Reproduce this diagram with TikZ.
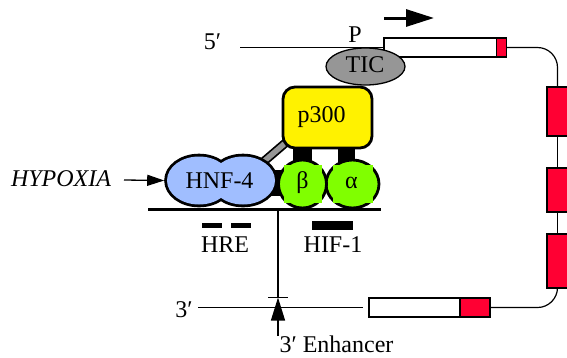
\documentclass[tikz,border=0pt]{standalone}
\usepackage{fontspec}
\setmainfont{Liberation Serif}
\usetikzlibrary{arrows.meta,shapes.geometric}
\definecolor{hnfblue}{RGB}{160,190,255}
\definecolor{hifgreen}{RGB}{128,255,0}
\definecolor{exonred}{RGB}{255,0,51}
\definecolor{ticgray}{RGB}{150,150,150}
\begin{document}
\begin{tikzpicture}[x=1pt,y=-1pt,
  lbl/.style={font=\fontsize{24}{27}\selectfont, inner sep=0pt, anchor=base},
  dna/.style={line width=1.2pt},
  outl/.style={line width=2.8pt},
  boxnode/.style={draw, line width=1.3pt, inner sep=0pt, rectangle},
  exon/.style={boxnode, fill=exonred},
  blank/.style={boxnode, fill=white},
  site/.style={fill=black},
]
\useasboundingbox (0,0) rectangle (567,357);

% ---------- gene (exons and DNA) ----------
\node[blank, minimum width=113pt, minimum height=19pt] (ex1) at (440.5,47.5) {};
\node[exon, minimum width=10pt, minimum height=19pt] (ex1r) at (501.5,47.5) {};
\node[exon, minimum width=21pt, minimum height=49pt] (ex2) at (557.5,111.5) {};
\node[exon, minimum width=21pt, minimum height=44pt] (ex3) at (557.5,190) {};
\node[exon, minimum width=21pt, minimum height=54pt] (ex4) at (557.5,261) {};
\node[blank, minimum width=91pt, minimum height=19pt] (ex5) at (414.5,307.5) {};
\node[exon, minimum width=30pt, minimum height=19pt] (ex5r) at (475,307.5) {};

\coordinate (top5) at (240,47.5);
\coordinate (bot3) at (198,307.5);
\coordinate (botend) at (363,307.5);
\draw[dna] (top5) -- (ex1.west);
\draw[dna, rounded corners=20pt] (ex1r.east) -| (ex2.north);
\draw[dna] (ex2.south) -- (ex3.north);
\draw[dna] (ex3.south) -- (ex4.north);
\draw[dna, rounded corners=20pt] (ex4.south) |- (ex5r.east);
\draw[dna] (bot3) -- (botend);

% transcription arrow
\coordinate (ta1) at (384,18);
\coordinate (ta2) at (434,18);
\draw[line width=3pt, -{Triangle[length=28pt,width=17pt]}] (ta1) -- (ta2);

% ---------- enhancer ----------
\coordinate (base1) at (148,209.5);
\coordinate (base2) at (381,209.5);
\coordinate (enhtop) at (278,209.5);
\coordinate (enhbot) at (278,297.5);
\coordinate (tick1) at (268,297.5);
\coordinate (tick2) at (288,297.5);
\coordinate (arrbot) at (278,336);
\draw[dna] (enhtop) -- (enhbot);
\draw[dna] (tick1) -- (tick2);
\draw[dna, -{Triangle[length=23pt,width=14pt]}] (arrbot) -- (enhbot);

\fill[site] (202,223) rectangle (222,228);
\fill[site] (231,223) rectangle (251,228);
\fill[site] (312,221) rectangle (353,230);

% ---------- protein complex ----------
% links drawn first
\draw[line width=9pt] (262,163) -- (290,139);
\draw[line width=5.5pt, ticgray] (262,163) -- (290,139);
\fill[black] (271,170) rectangle (284,196);
\fill[black] (293,145) rectangle (312,164);
\fill[black] (338,145) rectangle (355,164);

% HNF-4 (two lobes)
\node[ellipse, draw, line width=5.6pt, minimum width=64pt, minimum height=48pt, inner sep=0pt] (hnfa) at (199,180.5) {};
\node[ellipse, draw, line width=5.6pt, minimum width=64pt, minimum height=48pt, inner sep=0pt] (hnfb) at (243,180.5) {};
\fill[hnfblue] (199,180.5) ellipse [x radius=32, y radius=24];
\fill[hnfblue] (243,180.5) ellipse [x radius=32, y radius=24];

% HIF-1 alpha and beta
\node[ellipse, draw, outl, fill=hifgreen, minimum width=53pt, minimum height=48pt, inner sep=0pt] (alpha) at (352.5,184) {};
\node[circle, draw, outl, fill=hifgreen, minimum size=48pt, inner sep=0pt] (beta) at (302.5,184) {};
\fill[hifgreen] (283.5,165) rectangle (321.5,203);
\fill[hifgreen] (332.5,165) rectangle (372.5,203);

% baseline (DNA of enhancer)
\draw[line width=2.2pt] (base1) -- (base2);

% p300
\node[draw, outl, fill=yellow, rounded corners=12pt, minimum width=89pt, minimum height=61pt, inner sep=0pt] (p300) at (327.5,117.5) {};

% TIC
\node[ellipse, draw, line width=1.3pt, fill=ticgray, minimum width=79pt, minimum height=37pt, inner sep=0pt] (tic) at (365.5,66.5) {};

% ---------- labels ----------
\node[lbl] (t5) at (212.5,49) {5\char"2032};
\node[lbl] (tP) at (355,42) {P};
\node[lbl] (tTIC) at (365,72.5) {TIC};
\node[lbl] (tp300) at (321.5,122.5) {p300};
\node[lbl] (thnf) at (219.5,188) {HNF-4};
\node[lbl] (tbeta) at (302.5,188) {β};
\node[lbl] (talpha) at (351.5,188) {α};
\node[lbl] (thre) at (225,252.5) {HRE};
\node[lbl] (thif) at (333,252.5) {HIF-1};
\node[lbl] (t3) at (184,317) {3\char"2032};
\node[lbl] (tenh) at (336.5,352.5) {3\char"2032\ Enhancer};
\node[lbl, font=\fontsize{24}{27}\selectfont\itshape] (thyp) at (61,186) {HYPOXIA};

% hypoxia arrow
\draw[line width=1.3pt, -{Triangle[length=17pt,width=11pt]}] (124,180) -- (hnfa.west);
\end{tikzpicture}
\end{document}
